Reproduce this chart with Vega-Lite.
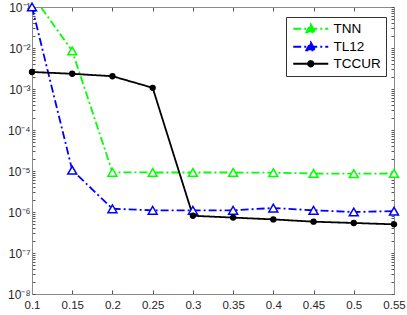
{
  "$schema": "https://vega.github.io/schema/vega-lite/v6.json",
  "width": 362,
  "height": 287,
  "autosize": "none",
  "padding": {"left": 32, "top": 7, "right": 13, "bottom": 21},
  "background": "white",
  "config": {
    "view": {"stroke": null},
    "font": "Liberation Sans",
    "axis": {
      "domainColor": "#8a8a8a",
      "tickColor": "#555555",
      "labelColor": "#262626",
      "labelFont": "Liberation Sans",
      "labelFontSize": 11,
      "grid": false,
      "title": null
    }
  },
  "data": {
    "values": [
      {"series": "TNN", "x": 0.1, "y": 0.2},
      {"series": "TNN", "x": 0.15, "y": 0.0085},
      {"series": "TNN", "x": 0.2, "y": 9.3e-6},
      {"series": "TNN", "x": 0.25, "y": 9.2e-6},
      {"series": "TNN", "x": 0.3, "y": 9.2e-6},
      {"series": "TNN", "x": 0.35, "y": 9.2e-6},
      {"series": "TNN", "x": 0.4, "y": 9.1e-6},
      {"series": "TNN", "x": 0.45, "y": 8.7e-6},
      {"series": "TNN", "x": 0.5, "y": 8.6e-6},
      {"series": "TNN", "x": 0.55, "y": 8.7e-6},
      {"series": "TL12", "x": 0.1, "y": 0.1},
      {"series": "TL12", "x": 0.15, "y": 1.05e-5},
      {"series": "TL12", "x": 0.2, "y": 1.2e-6},
      {"series": "TL12", "x": 0.25, "y": 1.1e-6},
      {"series": "TL12", "x": 0.3, "y": 1.1e-6},
      {"series": "TL12", "x": 0.35, "y": 1.1e-6},
      {"series": "TL12", "x": 0.4, "y": 1.25e-6},
      {"series": "TL12", "x": 0.45, "y": 1.1e-6},
      {"series": "TL12", "x": 0.5, "y": 1.0e-6},
      {"series": "TL12", "x": 0.55, "y": 1.05e-6},
      {"series": "TCCUR", "x": 0.1, "y": 0.0026},
      {"series": "TCCUR", "x": 0.15, "y": 0.00235},
      {"series": "TCCUR", "x": 0.2, "y": 0.00205},
      {"series": "TCCUR", "x": 0.25, "y": 0.00107},
      {"series": "TCCUR", "x": 0.3, "y": 8.1e-7},
      {"series": "TCCUR", "x": 0.35, "y": 7.3e-7},
      {"series": "TCCUR", "x": 0.4, "y": 6.6e-7},
      {"series": "TCCUR", "x": 0.45, "y": 5.8e-7},
      {"series": "TCCUR", "x": 0.5, "y": 5.4e-7},
      {"series": "TCCUR", "x": 0.55, "y": 5.0e-7}
    ]
  },
  "resolve": {"axis": {"x": "independent", "y": "independent"}},
  "layer": [
    {
      "mark": {"type": "line", "clip": true, "strokeWidth": 1.8},
      "encoding": {
        "x": {
          "field": "x", "type": "quantitative",
          "scale": {"domain": [0.1, 0.55], "nice": false, "zero": false},
          "axis": {
            "orient": "bottom",
            "values": [0.1, 0.15, 0.2, 0.25, 0.3, 0.35, 0.4, 0.45, 0.5, 0.55],
            "format": "~g",
            "labelFontSize": 11.5,
            "tickSize": -4,
            "labelPadding": 9,
            "labelFlush": false
          }
        },
        "y": {
          "field": "y", "type": "quantitative",
          "scale": {"type": "log", "domain": [1e-8, 0.1], "nice": false},
          "axis": {
            "orient": "left",
            "values": [1e-8,2e-8,3e-8,4e-8,5e-8,6e-8,7e-8,8e-8,9e-8,1e-7,2e-7,3e-7,4e-7,5e-7,6e-7,7e-7,8e-7,9e-7,1e-6,2e-6,3e-6,4e-6,5e-6,6e-6,7e-6,8e-6,9e-6,1e-5,2e-5,3e-5,4e-5,5e-5,6e-5,7e-5,8e-5,9e-5,1e-4,2e-4,3e-4,4e-4,5e-4,6e-4,7e-4,8e-4,9e-4,1e-3,2e-3,3e-3,4e-3,5e-3,6e-3,7e-3,8e-3,9e-3,1e-2,2e-2,3e-2,4e-2,5e-2,6e-2,7e-2,8e-2,9e-2,1e-1],
            "labelExpr": "abs(log(datum.value)/LN10 - round(log(datum.value)/LN10)) < 0.001 ? '10⁻' + ['⁰','¹','²','³','⁴','⁵','⁶','⁷','⁸'][-round(log(datum.value)/LN10)] : ''",
            "labelFontSize": 12,
            "tickSize": -3,
            "labelPadding": 5,
            "labelFlush": false,
            "labelOverlap": false
          }
        },
        "color": {
          "field": "series", "type": "nominal",
          "scale": {"domain": ["TNN", "TL12", "TCCUR"], "range": ["#00ff00", "#0000ff", "#000000"]},
          "legend": {
            "title": null,
            "orient": "none",
            "legendX": 254,
            "legendY": 10,
            "fillColor": "white",
            "strokeColor": "#333333",
            "padding": 5,
            "rowPadding": 2,
            "symbolSize": 100,
            "symbolOffset": 13,
            "symbolStrokeWidth": 1.8,
            "labelFontSize": 13.5,
            "labelFont": "Liberation Sans",
            "labelColor": "#000000",
            "labelOffset": 16,
            "encode": {
              "symbols": {
                "update": {
                  "shape": {"signal": "datum.value === 'TCCUR' ? 'M-3.5,0H3.5M0.55,0A0.55,0.55,0,1,1,-0.55,0A0.55,0.55,0,1,1,0.55,0Z' : 'M-3.5,0H3.5M0,-0.9L0.9,0.7L-0.9,0.7Z'"},
                  "fill": {"signal": "datum.value === 'TCCUR' ? '#000000' : (datum.value === 'TNN' ? '#00ff00' : '#0000ff')"}
                }
              }
            }
          }
        },
        "strokeDash": {
          "field": "series", "type": "nominal",
          "scale": {"domain": ["TNN", "TL12", "TCCUR"], "range": [[8, 3, 2, 3], [8, 3, 2, 3], [1, 0]]},
          "legend": null
        }
      }
    },
    {
      "transform": [{"filter": "datum.series === 'TNN'"}],
      "mark": {"type": "point", "shape": "triangle-up", "filled": false, "fill": "white", "stroke": "#00ff00", "strokeWidth": 1.5, "size": 80, "opacity": 1},
      "encoding": {
        "x": {
          "field": "x", "type": "quantitative",
          "scale": {"domain": [0.1, 0.55], "nice": false, "zero": false},
          "axis": {
            "orient": "top",
            "values": [0.1, 0.15, 0.2, 0.25, 0.3, 0.35, 0.4, 0.45, 0.5, 0.55],
            "labels": false,
            "tickSize": -4
          }
        },
        "y": {
          "field": "y", "type": "quantitative",
          "scale": {"type": "log", "domain": [1e-8, 0.1], "nice": false},
          "axis": {
            "orient": "right",
            "values": [1e-8,2e-8,3e-8,4e-8,5e-8,6e-8,7e-8,8e-8,9e-8,1e-7,2e-7,3e-7,4e-7,5e-7,6e-7,7e-7,8e-7,9e-7,1e-6,2e-6,3e-6,4e-6,5e-6,6e-6,7e-6,8e-6,9e-6,1e-5,2e-5,3e-5,4e-5,5e-5,6e-5,7e-5,8e-5,9e-5,1e-4,2e-4,3e-4,4e-4,5e-4,6e-4,7e-4,8e-4,9e-4,1e-3,2e-3,3e-3,4e-3,5e-3,6e-3,7e-3,8e-3,9e-3,1e-2,2e-2,3e-2,4e-2,5e-2,6e-2,7e-2,8e-2,9e-2,1e-1],
            "labels": false,
            "tickSize": -3
          }
        }
      }
    },
    {
      "transform": [{"filter": "datum.series === 'TL12'"}],
      "mark": {"type": "point", "shape": "triangle-up", "filled": false, "fill": "white", "stroke": "#0000ff", "strokeWidth": 1.5, "size": 80, "opacity": 1},
      "encoding": {
        "x": {"field": "x", "type": "quantitative", "axis": null},
        "y": {"field": "y", "type": "quantitative", "axis": null}
      }
    },
    {
      "transform": [{"filter": "datum.series === 'TCCUR'"}],
      "mark": {"type": "point", "shape": "circle", "filled": true, "color": "#000000", "size": 40, "opacity": 1},
      "encoding": {
        "x": {"field": "x", "type": "quantitative", "axis": null},
        "y": {"field": "y", "type": "quantitative", "axis": null}
      }
    }
  ]
}
